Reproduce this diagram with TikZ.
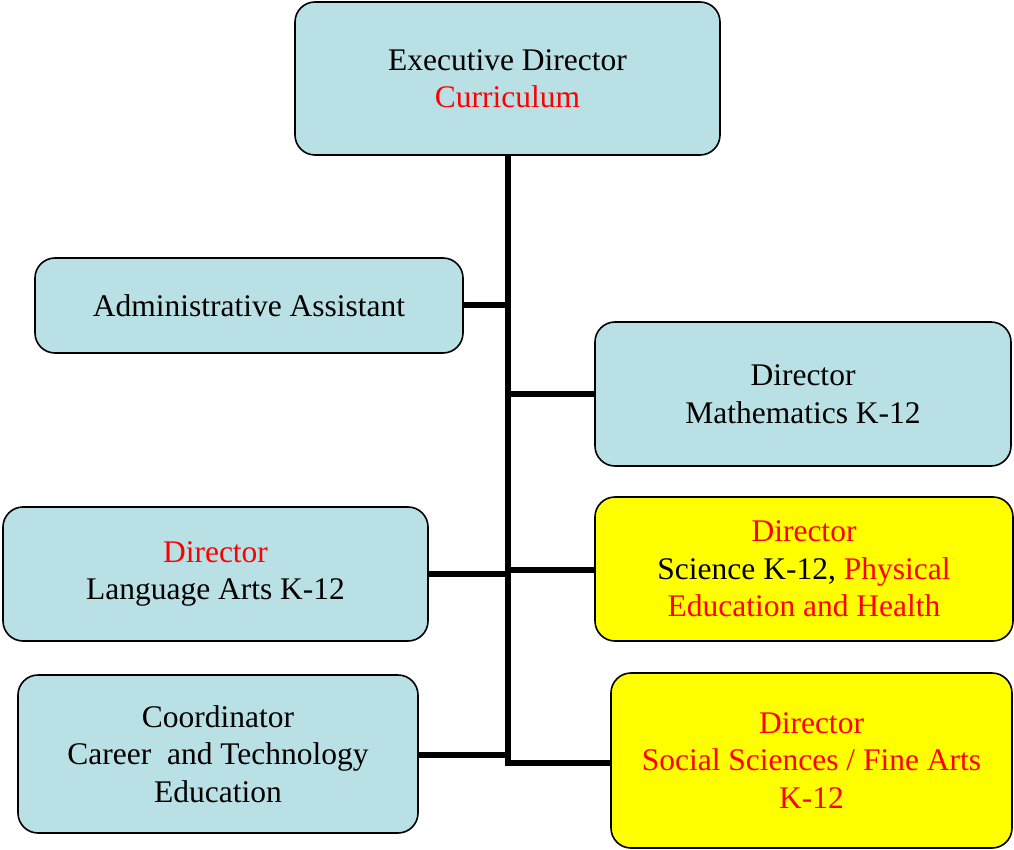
\documentclass[tikz,border=0pt]{standalone}
\usepackage{fontspec}
\setmainfont{Liberation Serif}
\definecolor{boxblue}{RGB}{185,224,228}
\definecolor{boxyellow}{RGB}{255,255,0}
\definecolor{txtred}{RGB}{255,0,0}
\begin{document}
\begin{tikzpicture}[x=1pt,y=-1pt,
  box/.style={draw=black,line width=1.6pt,rounded corners=20pt,fill=boxblue,
    align=center,inner sep=0pt,font=\fontsize{31.5}{37.5}\selectfont},
  ybox/.style={box,fill=boxyellow},
  link/.style={line width=6pt,line cap=butt}]
\useasboundingbox (0,0) rectangle (1014,850);
\node[box,minimum width=425pt,minimum height=153pt] (exec) at (507.5,78.5)
  {Executive Director\\\textcolor{txtred}{Curriculum}};
\node[box,minimum width=428pt,minimum height=95pt] (admin) at (249,305.5)
  {Administrative Assistant};
\node[box,minimum width=416pt,minimum height=144pt] (math) at (803,394)
  {Director\\Mathematics K-12};
\node[box,minimum width=425pt,minimum height=134pt] (lang) at (215.5,574)
  {\textcolor{txtred}{Director}\\Language Arts K-12};
\node[ybox,minimum width=418pt,minimum height=144pt] (sci) at (804,569)
  {\textcolor{txtred}{Director}\\Science K-12, \textcolor{txtred}{Physical}\\\textcolor{txtred}{Education and Health}};
\node[box,minimum width=400pt,minimum height=158pt] (coord) at (218,754)
  {Coordinator\\Career\ \ and Technology\\Education};
\node[ybox,minimum width=401pt,minimum height=175pt,text=txtred] (soc) at (811.5,760.5)
  {Director\\Social Sciences / Fine Arts\\K-12};
\coordinate (tadmin) at (507.5,305);
\coordinate (tmath) at (507.5,394);
\coordinate (tlang) at (507.5,574);
\coordinate (tsci) at (507.5,570);
\coordinate (tcoord) at (507.5,755);
\coordinate (tend) at (507.5,763);
\draw[link] (exec.south) -- (tend) -- (soc.west |- tend);
\draw[link] (admin.east |- tadmin) -- (tadmin);
\draw[link] (tmath) -- (math.west |- tmath);
\draw[link] (lang.east |- tlang) -- (tlang);
\draw[link] (tsci) -- (sci.west |- tsci);
\draw[link] (coord.east |- tcoord) -- (tcoord);
\end{tikzpicture}
\end{document}
